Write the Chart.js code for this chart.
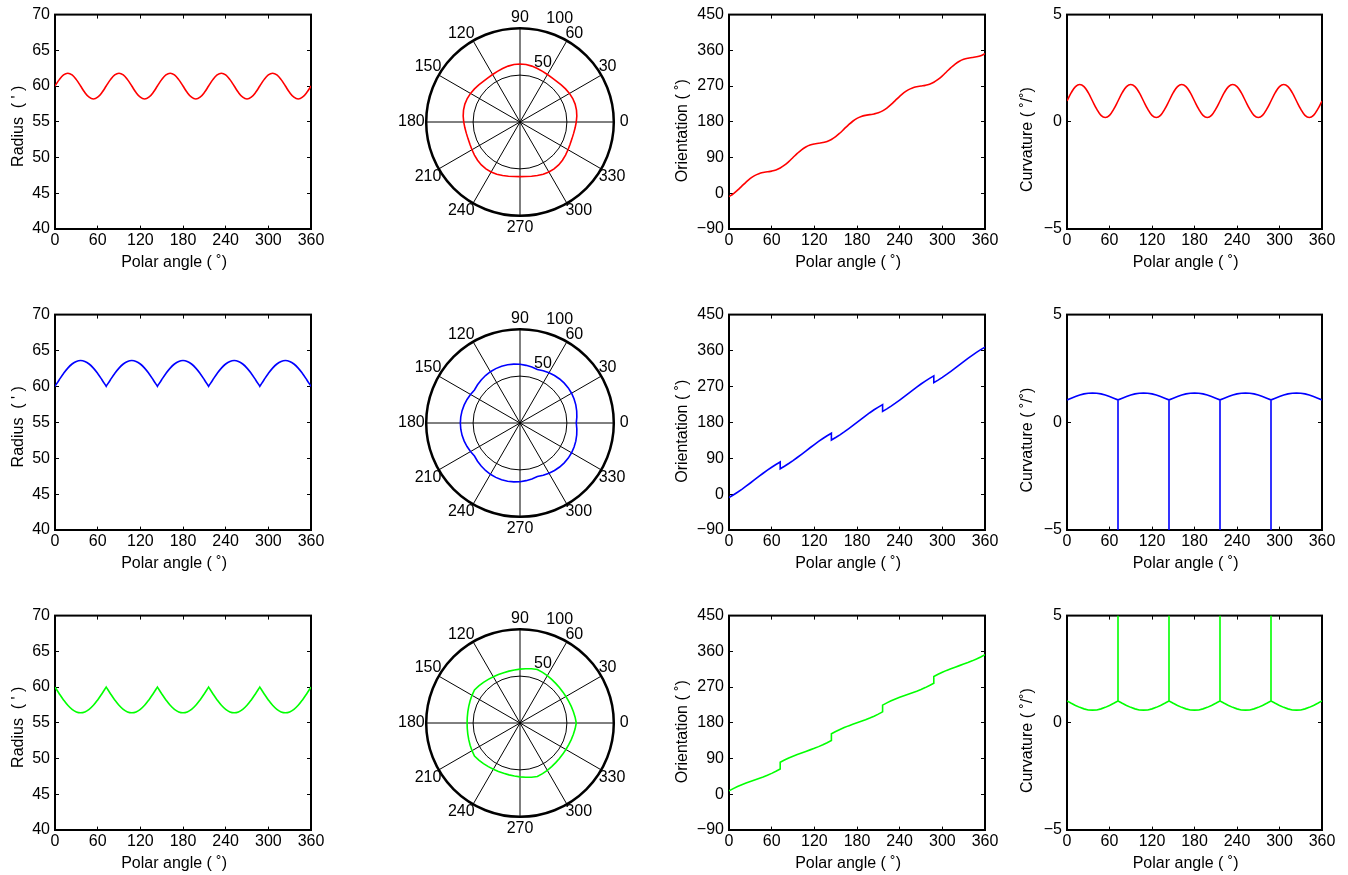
<!DOCTYPE html>
<html>
<head>
<meta charset="utf-8">
<script src="https://cdn.jsdelivr.net/npm/chart.js@4.4.1/dist/chart.umd.min.js"></script>
<style>
html,body{margin:0;padding:0;background:#fff;width:1348px;height:875px;overflow:hidden;position:relative;}
canvas{position:absolute;}
</style>
</head>
<body>
<script>
// ---------------- data ----------------
const polarAngle = [0,6,12,18,24,30,36,42,48,54,60,66,72,78,84,90,96,102,108,114,120,126,132,138,144,150,156,162,168,174,180,186,192,198,204,210,216,222,228,234,240,246,252,258,264,270,276,282,288,294,300,306,312,318,324,330,336,342,348,354,360];

const radiusRed = [60,60.9,61.56,61.8,61.56,60.9,60,59.1,58.44,58.2,58.44,59.1,
  60,60.9,61.56,61.8,61.56,60.9,60,59.1,58.44,58.2,58.44,59.1,
  60,60.9,61.56,61.8,61.56,60.9,60,59.1,58.44,58.2,58.44,59.1,
  60,60.9,61.56,61.8,61.56,60.9,60,59.1,58.44,58.2,58.44,59.1,
  60,60.9,61.56,61.8,61.56,60.9,60,59.1,58.44,58.2,58.44,59.1,
  60];

const orientRed = [-8.5,-1.36,7.75,18,28.25,37.36,44.5,49.36,52.25,54,55.75,58.64,
  63.5,70.64,79.75,90,100.25,109.36,116.5,121.36,124.25,126,127.75,130.64,
  135.5,142.64,151.75,162,172.25,181.36,188.5,193.36,196.25,198,199.75,202.64,
  207.5,214.64,223.75,234,244.25,253.36,260.5,265.36,268.25,270,271.75,274.64,
  279.5,286.64,295.75,306,316.25,325.36,332.5,337.36,340.25,342,343.75,346.64,
  351.5];

const curvRed = [0.97,1.36,1.64,1.74,1.64,1.36,0.97,0.59,0.30,0.20,0.30,0.59,
  0.97,1.36,1.64,1.74,1.64,1.36,0.97,0.59,0.30,0.20,0.30,0.59,
  0.97,1.36,1.64,1.74,1.64,1.36,0.97,0.59,0.30,0.20,0.30,0.59,
  0.97,1.36,1.64,1.74,1.64,1.36,0.97,0.59,0.30,0.20,0.30,0.59,
  0.97,1.36,1.64,1.74,1.64,1.36,0.97,0.59,0.30,0.20,0.30,0.59,
  0.97];

// polar angles with the cusp angles listed twice (end of one arc, start of the next)
const polarAngleCusp = [0,6,12,18,24,30,36,42,48,54,60,66,72,
  72,78,84,90,96,102,108,114,120,126,132,138,144,
  144,150,156,162,168,174,180,186,192,198,204,210,216,
  216,222,228,234,240,246,252,258,264,270,276,282,288,
  288,294,300,306,312,318,324,330,336,342,348,354,360];

const radiusBlue = [60,60.93,61.8,62.55,63.12,63.48,63.6,63.48,63.12,62.55,61.8,60.93,60,
  60,60.93,61.8,62.55,63.12,63.48,63.6,63.48,63.12,62.55,61.8,60.93,60,
  60,60.93,61.8,62.55,63.12,63.48,63.6,63.48,63.12,62.55,61.8,60.93,60,
  60,60.93,61.8,62.55,63.12,63.48,63.6,63.48,63.12,62.55,61.8,60.93,60,
  60,60.93,61.8,62.55,63.12,63.48,63.6,63.48,63.12,62.55,61.8,60.93,60];

const radiusGreen = [60,59.07,58.2,57.45,56.88,56.52,56.4,56.52,56.88,57.45,58.2,59.07,60,
  60,59.07,58.2,57.45,56.88,56.52,56.4,56.52,56.88,57.45,58.2,59.07,60,
  60,59.07,58.2,57.45,56.88,56.52,56.4,56.52,56.88,57.45,58.2,59.07,60,
  60,59.07,58.2,57.45,56.88,56.52,56.4,56.52,56.88,57.45,58.2,59.07,60,
  60,59.07,58.2,57.45,56.88,56.52,56.4,56.52,56.88,57.45,58.2,59.07,60];

const orientBlue = [-8.5,-2.21,4.64,11.99,19.75,27.8,36,44.2,52.25,60.01,67.36,74.21,80.5,
  63.5,69.79,76.64,83.99,91.75,99.8,108,116.2,124.25,132.01,139.36,146.21,152.5,
  135.5,141.79,148.64,155.99,163.75,171.8,180,188.2,196.25,204.01,211.36,218.21,224.5,
  207.5,213.79,220.64,227.99,235.75,243.8,252,260.2,268.25,276.01,283.36,290.21,296.5,
  279.5,285.79,292.64,299.99,307.75,315.8,324,332.2,340.25,348.01,355.36,362.21,368.5];

const orientGreen = [8.5,14.21,19.36,24.01,28.25,32.2,36,39.8,43.75,47.99,52.64,57.79,63.5,
  80.5,86.21,91.36,96.01,100.25,104.2,108,111.8,115.75,119.99,124.64,129.79,135.5,
  152.5,158.21,163.36,168.01,172.25,176.2,180,183.8,187.75,191.99,196.64,201.79,207.5,
  224.5,230.21,235.36,240.01,244.25,248.2,252,255.8,259.75,263.99,268.64,273.79,279.5,
  296.5,302.21,307.36,312.01,316.25,320.2,324,327.8,331.75,335.99,340.64,345.79,351.5];

// polar angles with each cusp listed three times (arc end, spike, next arc start)
const polarAngleSpike = [0,6,12,18,24,30,36,42,48,54,60,66,72,
  72,
  72,78,84,90,96,102,108,114,120,126,132,138,144,
  144,
  144,150,156,162,168,174,180,186,192,198,204,210,216,
  216,
  216,222,228,234,240,246,252,258,264,270,276,282,288,
  288,
  288,294,300,306,312,318,324,330,336,342,348,354,360];

const curvBlue = [1.04,1.12,1.20,1.27,1.32,1.35,1.36,1.35,1.32,1.27,1.20,1.12,1.04,
  -5,
  1.04,1.12,1.20,1.27,1.32,1.35,1.36,1.35,1.32,1.27,1.20,1.12,1.04,
  -5,
  1.04,1.12,1.20,1.27,1.32,1.35,1.36,1.35,1.32,1.27,1.20,1.12,1.04,
  -5,
  1.04,1.12,1.20,1.27,1.32,1.35,1.36,1.35,1.32,1.27,1.20,1.12,1.04,
  -5,
  1.04,1.12,1.20,1.27,1.32,1.35,1.36,1.35,1.32,1.27,1.20,1.12,1.04];

const curvGreen = [1.02,0.91,0.81,0.72,0.65,0.60,0.59,0.60,0.65,0.72,0.81,0.91,1.02,
  5,
  1.02,0.91,0.81,0.72,0.65,0.60,0.59,0.60,0.65,0.72,0.81,0.91,1.02,
  5,
  1.02,0.91,0.81,0.72,0.65,0.60,0.59,0.60,0.65,0.72,0.81,0.91,1.02,
  5,
  1.02,0.91,0.81,0.72,0.65,0.60,0.59,0.60,0.65,0.72,0.81,0.91,1.02,
  5,
  1.02,0.91,0.81,0.72,0.65,0.60,0.59,0.60,0.65,0.72,0.81,0.91,1.02];

// tick values / labels
const polarAngleTicks = [0,60,120,180,240,300,360];
const radiusTicks = [40,45,50,55,60,65,70];
const orientTicks = [-90,0,90,180,270,360,450];
const curvTicks = [-5,0,5];
const radialTicks = [50,100];
const spokeStep = 30;

// axis titles (trailing no-break spaces reproduce the off-centre placement of the original)
const xTitle = 'Polar angle ( \u02DA)\u00A0\u00A0\u00A0\u00A0';
const titleRadius = 'Radius  ( \' )\u00A0\u00A0';
const titleOrient = 'Orientation ( \u02DA)\u00A0\u00A0\u00A0\u00A0';
const titleCurv = 'Curvature ( \u02DA/\u02DA)\u00A0\u00A0\u00A0\u00A0\u00A0\u00A0\u00A0\u00A0';

// ---------------- drawing ----------------
const FAMILY = '"Liberation Sans", Arial, Helvetica, sans-serif';
const FS = 16;
const F = {family: FAMILY, size: FS};
const RED = '#ff0000', BLUE = '#0000ff', GREEN = '#00ff00';

const boxPlugin = {
  id: 'matlabBox',
  beforeDatasetsDraw(chart) {
    const {ctx, chartArea: a} = chart;
    ctx.save();
    ctx.strokeStyle = '#000';
    ctx.lineWidth = 2;
    ctx.strokeRect(a.left, a.top, a.right - a.left, a.bottom - a.top);
    ctx.restore();
  }
};

function makeCart(c) {
  const YW = c.yW, PT = 14, PR = 22, XH = 50;
  const w = YW + c.w + PR, h = PT + c.h + XH;
  const cv = document.createElement('canvas');
  cv.width = w; cv.height = h;
  cv.style.left = (c.left - YW) + 'px';
  cv.style.top = (c.top - PT) + 'px';
  cv.style.width = w + 'px'; cv.style.height = h + 'px';
  document.body.appendChild(cv);
  const data = c.xs.map((x, i) => ({x: x, y: c.ys[i]}));
  const yt = c.yticks;
  return new Chart(cv, {
    type: 'scatter',
    data: {datasets: [{data: data, showLine: true, borderColor: c.color, backgroundColor: c.color,
      borderWidth: 1.6, pointRadius: 0, pointHoverRadius: 0, tension: c.tension || 0, fill: false}]},
    options: {
      responsive: false, animation: false, events: [],
      layout: {padding: {left: 0, top: PT, right: PR, bottom: 0}},
      plugins: {legend: {display: false}, tooltip: {enabled: false}},
      scales: {
        x: {type: 'linear', position: 'bottom',
          min: polarAngleTicks[0], max: polarAngleTicks[polarAngleTicks.length - 1],
          afterBuildTicks: s => { s.ticks = polarAngleTicks.map(v => ({value: v})); },
          ticks: {autoSkip: false, maxRotation: 0, color: '#000', font: F, padding: 2},
          grid: {color: '#000', lineWidth: 1, drawTicks: false},
          border: {display: false, dash: [4, c.h - 8]},
          title: {display: true, text: xTitle, color: '#000', font: F, padding: {top: 0, bottom: 7}},
          afterFit: s => { s.height = XH; }
        },
        y: {type: 'linear', position: 'left',
          min: yt[0], max: yt[yt.length - 1],
          afterBuildTicks: s => { s.ticks = yt.map(v => ({value: v})); },
          ticks: {autoSkip: false, color: '#000', font: F, padding: 5,
            callback: v => String(v).replace('-', '\u2212')},
          grid: {color: '#000', lineWidth: 1, drawTicks: false},
          border: {display: false, dash: [4, c.w - 8]},
          title: {display: true, text: c.ytitle, color: '#000', font: F, padding: {top: c.tpad, bottom: 0}},
          afterFit: s => { s.width = YW; }
        }
      }
    },
    plugins: [boxPlugin]
  });
}

const radialLabelPlugin = {
  id: 'radialLabels',
  afterDatasetsDraw(chart) {
    const s = chart.scales.r, ctx = chart.ctx;
    ctx.save();
    ctx.font = FS + 'px ' + FAMILY;
    ctx.fillStyle = '#000';
    ctx.textAlign = 'center';
    ctx.textBaseline = 'middle';
    const a = 69 * Math.PI / 180;
    radialTicks.forEach(v => {
      const d = s.getDistanceFromCenterForValue(v) + 17;
      ctx.fillText(String(v), s.xCenter + d * Math.cos(a), s.yCenter - d * Math.sin(a));
    });
    ctx.restore();
  }
};

// spokes are walked clockwise by Chart.js, so list the polar angles counter-clockwise from 0
const polarSpokeOrder = polarAngle.slice(0, polarAngle.length - 1).map(a => (360 - a) % 360);

// distance of each spoke label from the outer circle (MATLAB centres them on a ring)
function spokeLabelPad(ctx) {
  const a = polarSpokeOrder[ctx.index];
  if (a === 0) return 6;
  if (a === 90 || a === 180) return 1.5;
  if (a === 270) return 2.5;
  return -3;
}

function makePolar(cx, cy, R, color, angles, radii) {
  let size = Math.round(2 * R + 60);
  const cv = document.createElement('canvas');
  cv.width = size; cv.height = size;
  document.body.appendChild(cv);
  const rvals = polarSpokeOrder.map(a => radii[angles.indexOf(a)]);
  const chart = new Chart(cv, {
    type: 'radar',
    data: {labels: polarSpokeOrder, datasets: [{data: rvals, borderColor: color, backgroundColor: color,
      borderWidth: 1.6, pointRadius: 0, pointHoverRadius: 0, fill: false, tension: 0}]},
    options: {
      responsive: false, maintainAspectRatio: false, animation: false, events: [],
      layout: {padding: 0},
      plugins: {legend: {display: false}, tooltip: {enabled: false}},
      scales: {r: {
        min: 0, max: radialTicks[radialTicks.length - 1], startAngle: 90,
        ticks: {display: false, stepSize: radialTicks[0]},
        grid: {circular: true, color: '#000', lineWidth: ctx => (ctx.tick && ctx.tick.value === 100) ? 2.5 : 1},
        angleLines: {display: true, color: '#000', lineWidth: ctx => (ctx.label !== '' ? 1 : 0)},
        pointLabels: {display: true, color: '#000', font: F, padding: spokeLabelPad,
          callback: v => (v % spokeStep === 0 ? String(v) : '')}
      }}
    },
    plugins: [radialLabelPlugin]
  });
  for (let k = 0; k < 6; k++) {
    const d = R - chart.scales.r.drawingArea;
    if (Math.abs(d) < 0.5) break;
    size += Math.round(2 * d) || (d > 0 ? 1 : -1);
    chart.resize(size, size);
  }
  const s = chart.scales.r;
  cv.style.left = Math.round(cx - s.xCenter) + 'px';
  cv.style.top = Math.round(cy - s.yCenter) + 'px';
  return chart;
}

const rows = [
  {top: 14, h: 215, cy: 122, color: RED,
   rx: polarAngle, r: radiusRed, ox: polarAngle, o: orientRed, kx: polarAngle, k: curvRed, tension: 0.4, otension: 0.4, ktension: 0.4},
  {top: 314, h: 216, cy: 423, color: BLUE,
   rx: polarAngleCusp, r: radiusBlue, ox: polarAngleCusp, o: orientBlue, kx: polarAngleSpike, k: curvBlue, tension: 0.4, otension: 0, ktension: 0},
  {top: 615, h: 215, cy: 723, color: GREEN,
   rx: polarAngleCusp, r: radiusGreen, ox: polarAngleCusp, o: orientGreen, kx: polarAngleSpike, k: curvGreen, tension: 0.4, otension: 0, ktension: 0}
];

rows.forEach(row => {
  makeCart({left: 55, top: row.top, w: 256, h: row.h, yW: 55, tpad: 9,
    yticks: radiusTicks, ytitle: titleRadius, xs: row.rx, ys: row.r, color: row.color, tension: row.tension});
  makePolar(520, row.cy, 94, row.color, row.rx, row.r);
  makeCart({left: 729, top: row.top, w: 256, h: row.h, yW: 60, tpad: 4,
    yticks: orientTicks, ytitle: titleOrient, xs: row.ox, ys: row.o, color: row.color, tension: row.otension});
  makeCart({left: 1067, top: row.top, w: 255, h: row.h, yW: 60, tpad: 11,
    yticks: curvTicks, ytitle: titleCurv, xs: row.kx, ys: row.k, color: row.color, tension: row.ktension});
});
</script>
</body>
</html>
